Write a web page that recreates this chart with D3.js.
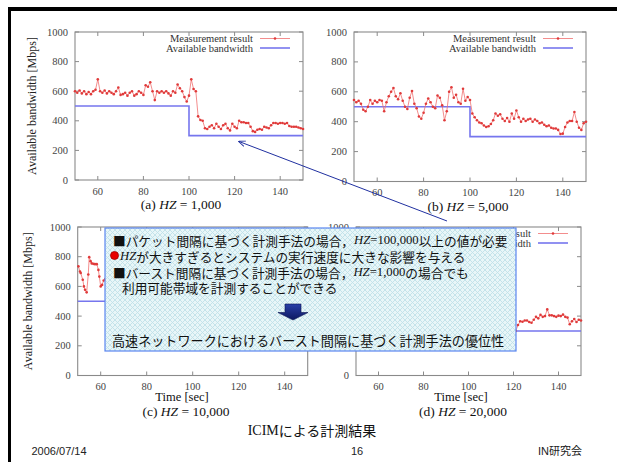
<!DOCTYPE html>
<html><head><meta charset="utf-8">
<script src="https://cdn.jsdelivr.net/npm/d3@7"></script>
<style>body{margin:0;background:#fff}svg{display:block}</style>
</head><body>
<script>
// ---------- data ----------
const timeTicks = [60, 80, 100, 120, 140];
const bwTicks = [0, 200, 400, 600, 800, 1000];
const availTime = [50, 100, 100, 150];
const availBw = [500, 500, 300, 300];

const timeA = d3.range(50, 151);
const bwA = [600,590,605,585,600,580,595,580,600,610,
  680,600,590,605,585,600,590,580,600,625,
  575,580,590,570,590,600,570,580,600,590,
  575,640,630,660,600,540,600,590,600,590,
  600,585,570,600,590,645,620,600,560,530,
  570,680,615,600,430,405,400,350,345,360,
  370,350,380,360,345,370,380,350,335,380,
  360,350,400,390,390,385,385,360,330,325,
  340,345,340,360,355,350,370,385,385,380,
  385,385,380,385,365,360,360,360,355,350,345];

const timeB = d3.range(50, 151);
const bwB = [545,530,540,520,480,470,500,545,520,540,
  530,545,540,470,530,570,600,625,570,550,
  590,540,500,485,560,605,520,490,435,420,
  460,520,555,530,500,490,575,560,510,410,
  470,600,630,560,580,530,520,620,540,565,
  545,455,430,410,395,390,375,365,370,385,
  410,455,440,450,420,405,425,400,455,420,
  475,430,400,420,405,415,420,400,415,405,
  390,395,380,370,375,360,355,355,345,318,
  320,365,395,405,405,465,400,360,345,390,400];

const timeC = [50.3,51,51.3,52.2,52.7,53.2,53.9,54.6,55,55.6,56.1,56.8,57.5,58.3,59,59.4,60,60.6,61.3,62];
const bwC = [735,700,690,645,600,577,560,680,797,770,755,752,750,750,711,666,600,610,640,650];

const timeD = [121,122,123,124,125,126,127,128,129,130,131,132,133,134,135,136,137,138,139,140,141,142,143,144,145,146,147,148,149,150];
const bwD = [300,340,365,362,370,370,360,355,375,395,385,408,395,400,445,405,405,400,395,403,400,410,395,390,345,365,380,360,375,370];

const legendLabels = ["Measurement result", "Available bandwidth"];
const panelLetters = ["(a)", "(b)", "(c)", "(d)"];
const panelHZ = ["1,000", "5,000", "10,000", "20,000"];

// ---------- drawing ----------
const W = 617, H = 462;
const svg = d3.select("body").append("svg").attr("width", W).attr("height", H);
const defs = svg.append("defs");
const pat = defs.append("pattern").attr("id","lattice").attr("width",5).attr("height",5).attr("patternUnits","userSpaceOnUse");
pat.append("rect").attr("width",5).attr("height",5).attr("fill","#e8f6f8");
pat.append("path").attr("d","M0,0 L5,5 M5,0 L0,5").attr("stroke","#bfe1e9").attr("stroke-width",0.9);
defs.append("marker").attr("id","ah").attr("viewBox","0 0 10 10").attr("refX",9).attr("refY",5)
  .attr("markerWidth",7).attr("markerHeight",7).attr("orient","auto")
  .append("path").attr("d","M0,1 L10,5 L0,9").attr("fill","none").attr("stroke","#2030a0").attr("stroke-width",1.3);

const serif = "Liberation Serif, Times New Roman, serif";

// box region (texts of the charts fully covered by it are not drawn)
const box = {x:105, y:228, w:411, h:123};

const panels = [
  {l:75, r:303, t:32, b:180, time:timeA, bw:bwA, ylab:32, capX:181, capY:204, timeLab:null, legend:true, hideY:[]},
  {l:354, r:586, t:32, b:181.5, time:timeB, bw:bwB, ylab:null, capX:468, capY:205.5, timeLab:null, legend:true, hideY:[]},
  {l:77.7, r:307.7, t:227, b:375.5, time:timeC, bw:bwC, ylab:28, capX:186, capY:411, timeLab:182, legend:false, hideY:[]},
  {l:356, r:581, t:227, b:375.5, time:timeD, bw:bwD, ylab:null, capX:463, capY:411, timeLab:461, legend:true, hideY:[200,400,600,800]}
];

panels.forEach((p, i) => {
  const g = svg.append("g");
  const x = d3.scaleLinear().domain([50, 150]).range([p.l, p.r]);
  const y = d3.scaleLinear().domain([0, 1000]).range([p.b, p.t]);
  const frame = "#8a8a8a";
  timeTicks.forEach(v => {
    g.append("line").attr("x1",x(v)).attr("x2",x(v)).attr("y1",p.b).attr("y2",p.b-4).attr("stroke",frame);
    g.append("line").attr("x1",x(v)).attr("x2",x(v)).attr("y1",p.t).attr("y2",p.t+4).attr("stroke",frame);
    g.append("text").attr("x",x(v)).attr("y",p.b+11).attr("text-anchor","middle").attr("dominant-baseline","central")
      .attr("font-family",serif).attr("font-size",10.5).attr("fill","#444").text(v);
  });
  bwTicks.forEach(v => {
    g.append("line").attr("x1",p.l).attr("x2",p.l+4).attr("y1",y(v)).attr("y2",y(v)).attr("stroke",frame);
    g.append("line").attr("x1",p.r).attr("x2",p.r-4).attr("y1",y(v)).attr("y2",y(v)).attr("stroke",frame);
    if (p.hideY.indexOf(v) < 0)
      g.append("text").attr("x",p.l-7).attr("y",y(v)).attr("text-anchor","end").attr("dominant-baseline","central")
        .attr("font-family",serif).attr("font-size",10.5).attr("fill","#444").text(v);
  });
  g.append("rect").attr("x",p.l).attr("y",p.t).attr("width",p.r-p.l).attr("height",p.b-p.t)
    .attr("fill","none").attr("stroke",frame).attr("stroke-width",1.1);

  const availPts = availTime.map((t, k) => [t, availBw[k]]);
  g.append("path").datum(availPts)
    .attr("d", d3.line().x(d => x(d[0])).y(d => y(d[1])))
    .attr("fill","none").attr("stroke","#7676ee").attr("stroke-width",1.6);
  const mPts = p.time.map((t, k) => [t, p.bw[k]]);
  g.append("path").datum(mPts)
    .attr("d", d3.line().x(d => x(d[0])).y(d => y(d[1])))
    .attr("fill","none").attr("stroke","#f07070").attr("stroke-width",0.8);
  g.selectAll("circle.pt").data(mPts).enter().append("circle")
    .attr("cx", d => x(d[0])).attr("cy", d => y(d[1])).attr("r",1.3).attr("fill","#e03a3a");

  if (p.legend) {
    const lx = p.r - 50;
    legendLabels.forEach((lab, k) => {
      const ly = p.t + 6.5 + k * 9.5;
      g.append("text").attr("x",lx).attr("y",ly).attr("text-anchor","end").attr("dominant-baseline","central")
        .attr("font-family",serif).attr("font-size",10.5).attr("fill","#333").text(lab);
      g.append("line").attr("x1",p.r-43).attr("x2",p.r-13).attr("y1",ly).attr("y2",ly)
        .attr("stroke", k === 0 ? "#f07070" : "#7676ee").attr("stroke-width", k === 0 ? 0.8 : 1.6);
      if (k === 0) g.append("circle").attr("cx",p.r-28).attr("cy",ly).attr("r",1.3).attr("fill","#e03a3a");
    });
  }

  if (p.ylab !== null) {
    g.append("text").attr("transform",`translate(${p.ylab},${(p.t+p.b)/2}) rotate(-90)`)
      .attr("text-anchor","middle").attr("dominant-baseline","central")
      .attr("font-family",serif).attr("font-size",12).attr("fill","#222").text("Available bandwidth [Mbps]");
  }
  if (p.timeLab !== null) {
    g.append("text").attr("x",p.timeLab).attr("y",397).attr("text-anchor","middle").attr("dominant-baseline","central")
      .attr("font-family",serif).attr("font-size",12.5).attr("fill","#111").text("Time [sec]");
  }
  const cap = g.append("text").attr("x",p.capX).attr("y",p.capY).attr("text-anchor","middle").attr("dominant-baseline","central")
    .attr("font-family",serif).attr("font-size",13.5).attr("fill","#111");
  cap.append("tspan").text(panelLetters[i] + " ");
  cap.append("tspan").attr("font-style","italic").text("HZ");
  cap.append("tspan").text(" = " + panelHZ[i]);
});

// pointing arrow
svg.append("line").attr("x1",447).attr("y1",221).attr("x2",239).attr("y2",141.5)
  .attr("stroke","#2030a0").attr("stroke-width",1).attr("marker-end","url(#ah)");

// overlay box
const bx = svg.append("g");
bx.append("rect").attr("x",box.x).attr("y",box.y).attr("width",box.w).attr("height",box.h)
  .attr("fill","url(#lattice)").attr("stroke","#5a86f0").attr("stroke-width",1.2);
const jp = "Noto Sans CJK JP, sans-serif";
function jline(x0, y0, size, parts) {
  const t = bx.append("text").attr("x",x0).attr("y",y0).attr("dominant-baseline","central")
    .attr("font-family",jp).attr("font-size",size).attr("fill","#111");
  parts.forEach(pt => {
    const s = t.append("tspan").text(pt.s);
    if (pt.it) s.attr("font-family",serif).attr("font-style","italic");
    else if (pt.serif) s.attr("font-family",serif);
  });
}
jline(113, 240, 12.7, [{s:"■パケット間隔に基づく計測手法の場合，"},{s:"HZ",it:1},{s:"=100,000",serif:1},{s:"以上の値が必要"}]);
bx.append("circle").attr("cx",114.5).attr("cy",255.5).attr("r",4).attr("fill","#e80000").attr("stroke","#a00000").attr("stroke-width",0.8);
jline(120, 255.5, 12.7, [{s:"HZ",it:1},{s:"が大きすぎるとシステムの実行速度に大きな影響を与える"}]);
jline(113, 271.5, 12.7, [{s:"■バースト間隔に基づく計測手法の場合，"},{s:"HZ",it:1},{s:"=1,000",serif:1},{s:"の場合でも"}]);
jline(122, 287, 12.7, [{s:"利用可能帯域を計測することができる"}]);
const grad = defs.append("linearGradient").attr("id","ag").attr("x1",0).attr("x2",0).attr("y1",0).attr("y2",1);
grad.append("stop").attr("offset","0").attr("stop-color","#2a3fa8");
grad.append("stop").attr("offset","1").attr("stop-color","#0c1860");
bx.append("path").attr("d","M285,304 L301,304 L301,312.5 L308,312.5 L293,320 L278,312.5 L285,312.5 Z")
  .attr("fill","url(#ag)").attr("stroke","#0a1450").attr("stroke-width",0.6);
jline(112, 340, 13.1, [{s:"高速ネットワークにおけるバースト間隔に基づく計測手法の優位性"}]);

// title & footer
const tt = svg.append("text").attr("x",312).attr("y",430).attr("text-anchor","middle").attr("dominant-baseline","central")
  .attr("font-size",14).attr("fill","#111").attr("font-family",jp);
tt.append("tspan").attr("font-family",serif).text("ICIM");
tt.append("tspan").text("による計測結果");
const foot = "Liberation Sans, Arial, sans-serif";
svg.append("text").attr("x",31.5).attr("y",451).attr("dominant-baseline","central").attr("font-family",foot).attr("font-size",11).attr("fill","#222").text("2006/07/14");
svg.append("text").attr("x",357).attr("y",451).attr("text-anchor","middle").attr("dominant-baseline","central").attr("font-family",foot).attr("font-size",11).attr("fill","#222").text("16");
svg.append("text").attr("x",582).attr("y",451).attr("text-anchor","end").attr("dominant-baseline","central").attr("font-family",foot + ", Noto Sans CJK JP").attr("font-size",11).attr("fill","#222").text("IN研究会");

// slide border
svg.append("rect").attr("x",8).attr("y",7).attr("width",W-8).attr("height",4).attr("fill","#000");
svg.append("rect").attr("x",8).attr("y",7).attr("width",3).attr("height",H-7).attr("fill","#000");
</script>
</body></html>
